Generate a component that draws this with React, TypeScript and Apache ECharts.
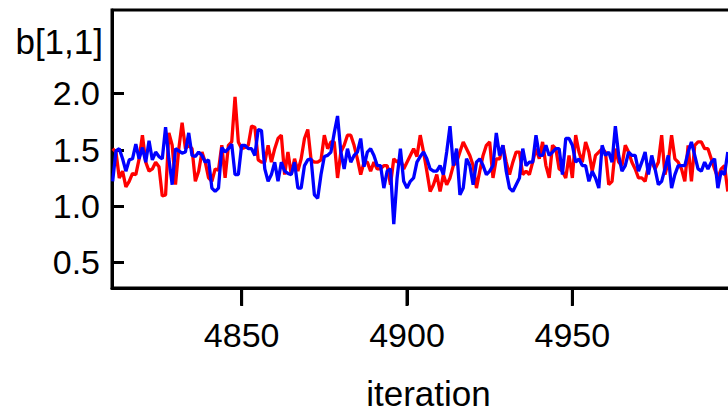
import React, { useEffect, useRef } from "react";
import * as echarts from "echarts";

const firstIteration = 4811;

// chain 1 (red)
const chain1 = [
  1.51, 1.48, 1.25, 1.31, 1.17, 1.22, 1.29, 1.28, 1.42, 1.63, 1.39, 1.31, 1.33, 1.39, 1.35, 1.09,
  1.10, 1.65, 1.54, 1.19, 1.51, 1.74, 1.51, 1.54, 1.51, 1.22, 1.31, 1.48, 1.39, 1.25, 1.22,
  1.33, 1.32, 1.54, 1.25, 1.54, 1.57, 1.97, 1.57, 1.51, 1.52, 1.54, 1.71, 1.70, 1.41, 1.39, 1.39,
  1.54, 1.39, 1.51, 1.60, 1.63, 1.28, 1.48, 1.28, 1.42, 1.31, 1.42, 1.60, 1.68, 1.41, 1.39,
  1.39, 1.41, 1.63, 1.51, 1.57, 1.57, 1.25, 1.48, 1.54, 1.63, 1.63, 1.54, 1.42, 1.28, 1.39, 1.39,
  1.31, 1.39, 1.33, 1.33, 1.36, 1.36, 1.19, 1.42, 1.39, 1.42, 1.33, 1.39, 1.45, 1.51, 1.44,
  1.63, 1.48, 1.31, 1.13, 1.19, 1.28, 1.13, 1.28, 1.19, 1.25, 1.36, 1.39, 1.48, 1.57, 1.51, 1.45,
  1.36, 1.16, 1.31, 1.45, 1.54, 1.57, 1.25, 1.42, 1.42, 1.54, 1.39, 1.28, 1.39, 1.48, 1.48,
  1.28, 1.31, 1.28, 1.39, 1.51, 1.42, 1.57, 1.36, 1.25, 1.54, 1.51, 1.33, 1.31, 1.25, 1.45, 1.25,
  1.63, 1.48, 1.39, 1.57, 1.48, 1.31, 1.45, 1.48, 1.51, 1.48, 1.19, 1.22, 1.51, 1.39, 1.36,
  1.54, 1.48, 1.39, 1.33, 1.25, 1.25, 1.22, 1.36, 1.39, 1.33, 1.39, 1.63, 1.28, 1.39, 1.63, 1.42,
  1.39, 1.33, 1.22, 1.54, 1.22, 1.54, 1.57, 1.57, 1.51, 1.51, 1.42, 1.33, 1.25, 1.33, 1.36, 1.13,
];

// chain 2 (blue)
const chain2 = [
  1.22, 1.49, 1.51, 1.42, 1.31, 1.41, 1.42, 1.55, 1.42, 1.52, 1.39, 1.58, 1.41, 1.48, 1.44, 1.42,
  1.70, 1.42, 1.19, 1.51, 1.49, 1.47, 1.48, 1.65, 1.45, 1.44, 1.48, 1.45, 1.39, 1.41, 1.16,
  1.13, 1.16, 1.52, 1.48, 1.51, 1.55, 1.28, 1.28, 1.54, 1.54, 1.51, 1.51, 1.45, 1.68, 1.67, 1.33,
  1.22, 1.28, 1.39, 1.22, 1.39, 1.31, 1.29, 1.28, 1.39, 1.16, 1.16, 1.36, 1.41, 1.42, 1.10,
  1.07, 1.28, 1.44, 1.45, 1.48, 1.65, 1.80, 1.48, 1.33, 1.51, 1.39, 1.45, 1.48, 1.60, 1.35, 1.48,
  1.51, 1.45, 1.36, 1.36, 1.16, 1.31, 1.33, 0.84, 1.25, 1.51, 1.22, 1.16, 1.22, 1.25, 1.39,
  1.44, 1.48, 1.42, 1.33, 1.31, 1.31, 1.36, 1.28, 1.48, 1.71, 1.36, 1.51, 1.10, 1.16, 1.42, 1.36,
  1.19, 1.39, 1.42, 1.36, 1.28, 1.31, 1.36, 1.65, 1.45, 1.54, 1.31, 1.16, 1.13, 1.19, 1.25,
  1.51, 1.36, 1.39, 1.39, 1.63, 1.45, 1.45, 1.54, 1.45, 1.48, 1.51, 1.51, 1.28, 1.60, 1.60, 1.54,
  1.39, 1.42, 1.36, 1.36, 1.22, 1.31, 1.25, 1.16, 1.54, 1.45, 1.48, 1.39, 1.71, 1.45, 1.31,
  1.36, 1.48, 1.45, 1.45, 1.31, 1.39, 1.48, 1.28, 1.45, 1.33, 1.19, 1.22, 1.33, 1.45, 1.16, 1.28,
  1.36, 1.36, 1.36, 1.48, 1.57, 1.45, 1.33, 1.31, 1.39, 1.33, 1.39, 1.42, 1.16, 1.31, 1.28, 1.48,
];

const xTicks = [4850, 4900, 4950];
const yTicks = [0.5, 1.0, 1.5, 2.0];
const paramLabel = "b[1,1]";
const xLabel = "iteration";

const FONT = "'Liberation Sans', Arial, Helvetica, sans-serif";
const Y_MIN = 0.273;
const Y_MAX = 2.741;

export default function App() {
  const ref = useRef<HTMLDivElement>(null);

  useEffect(() => {
    if (!ref.current) return;
    const chart = echarts.init(ref.current, null, { renderer: "svg" });
    const toPairs = (arr: number[]) => arr.map((v, i) => [firstIteration + i, v]);

    chart.setOption({
      animation: false,
      backgroundColor: "#ffffff",
      grid: {
        left: 112,
        top: 10,
        right: 0,
        bottom: 123,
        show: true,
        borderColor: "#000000",
        borderWidth: 3,
        backgroundColor: "transparent",
      },
      xAxis: {
        type: "value",
        min: 4810.8,
        max: 5002.2,
        name: xLabel,
        nameLocation: "middle",
        nameGap: 88,
        nameTextStyle: { fontSize: 35, color: "#000", fontFamily: FONT },
        axisLine: { show: true, onZero: false, lineStyle: { width: 3, color: "#000" } },
        axisTick: {
          show: true,
          inside: false,
          length: 17,
          customValues: xTicks,
          lineStyle: { width: 3, color: "#000" },
        },
        axisLabel: {
          customValues: xTicks,
          formatter: (v: number) => String(Math.round(v)),
          margin: 30,
          fontSize: 34,
          color: "#000",
          fontFamily: FONT,
        },
        splitLine: { show: false },
      },
      yAxis: {
        type: "value",
        min: Y_MIN,
        max: Y_MAX,
        axisLine: { show: true, onZero: false, lineStyle: { width: 3, color: "#000" } },
        axisTick: {
          show: true,
          inside: true,
          length: 12,
          customValues: yTicks,
          lineStyle: { width: 3, color: "#000" },
        },
        axisLabel: {
          customValues: yTicks,
          formatter: (v: number) => v.toFixed(1),
          margin: 12,
          fontSize: 34,
          padding: [0, 0, 4, 0],
          color: "#000",
          fontFamily: FONT,
        },
        splitLine: { show: false },
      },
      graphic: [
        {
          type: "text",
          x: 103,
          y: 41,
          style: {
            text: paramLabel,
            fontSize: 35,
            fontFamily: FONT,
            fill: "#000",
            align: "right",
            verticalAlign: "middle",
          },
        },
      ],
      series: [
        {
          type: "line",
          name: "chain 1",
          data: toPairs(chain1),
          showSymbol: false,
          lineStyle: { color: "#ff0000", width: 3.3 },
          itemStyle: { color: "#ff0000" },
          z: 2,
        },
        {
          type: "line",
          name: "chain 2",
          data: toPairs(chain2),
          showSymbol: false,
          lineStyle: { color: "#0000ff", width: 3.3 },
          itemStyle: { color: "#0000ff" },
          z: 3,
        },
        {
          // x-axis tick marks below the frame
          type: "custom",
          name: "x ticks",
          silent: true,
          clip: false,
          data: xTicks.map((v) => [v, Y_MIN]),
          encode: { x: 0, y: 1 },
          renderItem: (_params: any, api: any) => {
            const p = api.coord([api.value(0), api.value(1)]);
            return {
              type: "line",
              shape: { x1: p[0], y1: p[1], x2: p[0], y2: p[1] + 18 },
              style: { stroke: "#000", lineWidth: 3 },
            };
          },
          z: 5,
        },
      ],
    });

    return () => chart.dispose();
  }, []);

  return (
    <div
      ref={ref}
      style={{ position: "fixed", left: 0, top: 0, width: 745, height: 416 }}
    />
  );
}
